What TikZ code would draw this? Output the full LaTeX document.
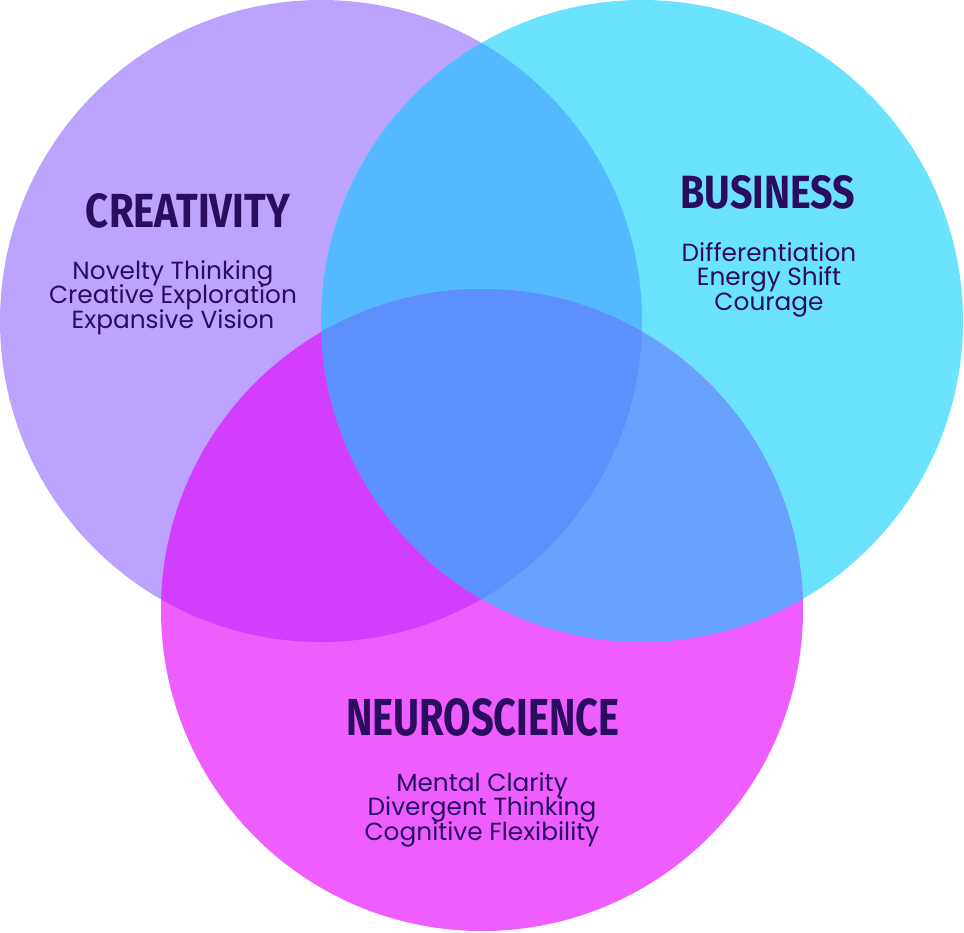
\documentclass[tikz,border=0pt]{standalone}
\usepackage{fontspec}
\setmainfont{Poppins}
\newfontfamily\headfont{Fira Sans}
\definecolor{creacol}{HTML}{BCA4FE}
\definecolor{busicol}{HTML}{6CE3FE}
\definecolor{neurocol}{HTML}{EE5EFE}
\definecolor{crebuscol}{HTML}{54B9FE}
\definecolor{creneucol}{HTML}{D33EFE}
\definecolor{busneucol}{HTML}{67A2FE}
\definecolor{allcol}{HTML}{5C90FE}
\definecolor{inkcol}{HTML}{2A0D5E}
\newcommand{\headtext}[3]{\resizebox{#1}{#2}{\headfont\bfseries #3}}
\newcommand{\listfont}{\fontsize{18.6}{18.2}\selectfont\lineskiplimit=-20pt\relax}
\begin{document}
\begin{tikzpicture}[x=0.75pt,y=-0.75pt]
	\tikzset{head/.style={text=inkcol,inner sep=0pt,anchor=base},
		items/.style={text=inkcol,inner sep=0pt,anchor=base,align=center,
			font=\listfont}}
	\useasboundingbox (0,0) rectangle (964,932);

	\pgfmathsetmacro{\rad}{321}
	\coordinate (C) at (321,321);
	\coordinate (B) at (642,321);
	\coordinate (N) at (482,610);

	% the three circles
	\fill[creacol] (C) circle (\rad);
	\fill[busicol] (B) circle (\rad);
	\fill[neurocol] (N) circle (\rad);

	% overlaps
	\begin{scope}
		\clip (C) circle (\rad);
		\fill[crebuscol] (B) circle (\rad);
		\fill[creneucol] (N) circle (\rad);
	\end{scope}
	\begin{scope}
		\clip (B) circle (\rad);
		\fill[busneucol] (N) circle (\rad);
		\clip (C) circle (\rad);
		\fill[allcol] (N) circle (\rad);
	\end{scope}

	% titles
	\node[head] (creatitle) at (188,227) {\headtext{153pt}{25.5pt}{CREATIVITY}};
	\node[head] (busititle) at (768,208) {\headtext{131pt}{24.8pt}{BUSINESS}};
	\node[head] (neurotitle) at (483,735) {\headtext{205pt}{27.7pt}{NEUROSCIENCE}};

	% lists (base = last line)
	\node[items] (crealist) at (173,328) {Novelty Thinking\\Creative Exploration\\Expansive Vision};
	\node[items] (busilist) at (769,310) {Differentiation\\Energy Shift\\Courage};
	\node[items] (neurolist) at (482,840) {Mental Clarity\\Divergent Thinking\\Cognitive Flexibility};
\end{tikzpicture}
\end{document}
